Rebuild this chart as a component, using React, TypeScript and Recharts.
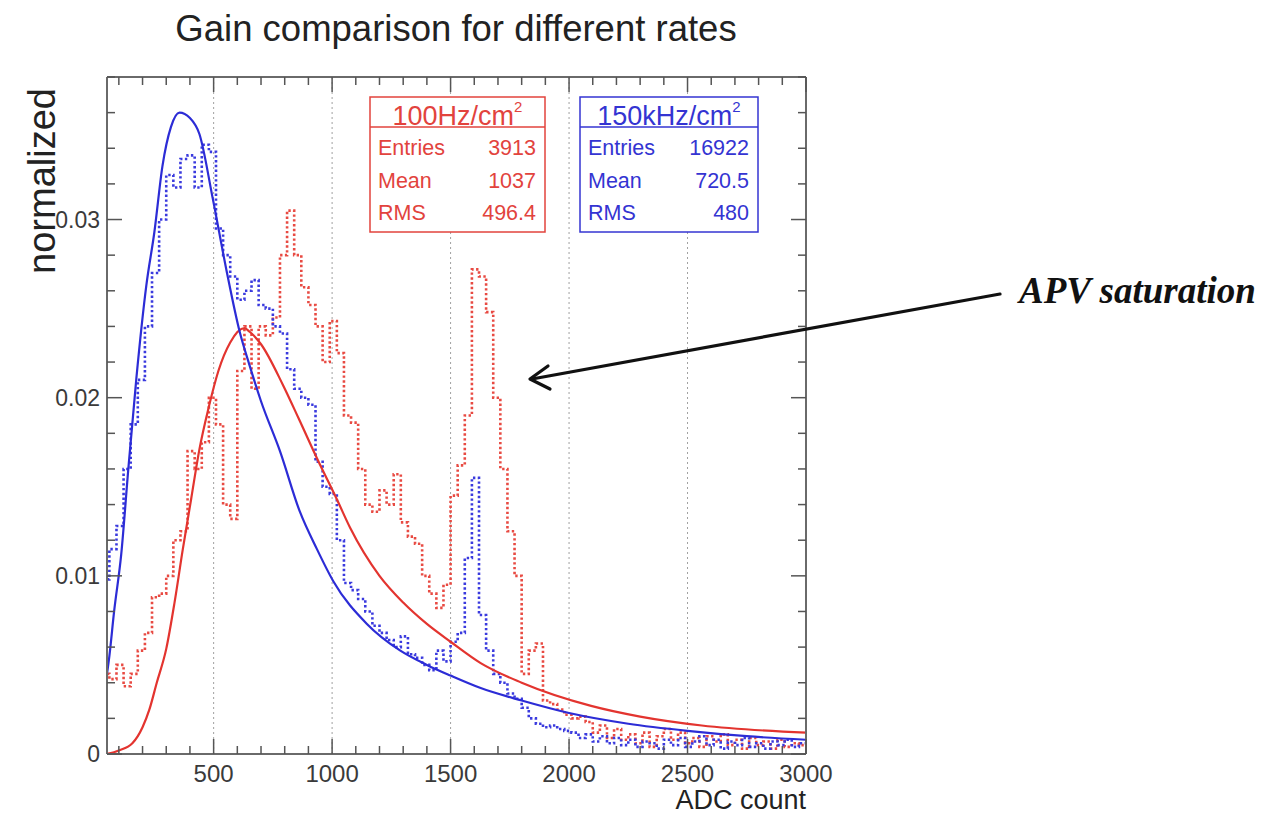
import React from 'react';
import { LineChart, Line, XAxis, YAxis, CartesianGrid } from 'recharts';

// ---------- data ----------
const binEdges = [
  30, 60, 90, 120, 150, 180, 210, 240, 270, 300,
  330, 360, 390, 420, 450, 480, 510, 540, 570, 600,
  630, 660, 690, 720, 750, 780, 810, 840, 870, 900,
  930, 960, 990, 1020, 1050, 1080, 1110, 1140, 1170, 1200,
  1230, 1260, 1290, 1320, 1350, 1380, 1410, 1440, 1470, 1500,
  1530, 1560, 1590, 1620, 1650, 1680, 1710, 1740, 1770, 1800,
  1830, 1860, 1890, 1920, 1950, 1980, 2010, 2040, 2070, 2100,
  2130, 2160, 2190, 2220, 2250, 2280, 2310, 2340, 2370, 2400,
  2430, 2460, 2490, 2520, 2550, 2580, 2610, 2640, 2670, 2700,
  2730, 2760, 2790, 2820, 2850, 2880, 2910, 2940, 2970, 3000,
];

const red100Hz = [
  0.0045, 0.0042, 0.0050, 0.0038, 0.0045, 0.0058, 0.0068, 0.0088, 0.0090, 0.0100,
  0.0120, 0.0125, 0.0170, 0.0160, 0.0175, 0.0200, 0.0185, 0.0140, 0.0132, 0.0215,
  0.0240, 0.0205, 0.0240, 0.0235, 0.0245, 0.0280, 0.0305, 0.0280, 0.0262, 0.0252,
  0.0240, 0.0220, 0.0243, 0.0225, 0.0190, 0.0186, 0.0160, 0.0140, 0.0136, 0.0148,
  0.0140, 0.0157, 0.0130, 0.0122, 0.0118, 0.0100, 0.0090, 0.0082, 0.0095, 0.0145,
  0.0162, 0.0190, 0.0272, 0.0268, 0.0248, 0.0200, 0.0160, 0.0125, 0.0100, 0.0045,
  0.0058, 0.0062, 0.0030, 0.0028, 0.0025, 0.0022, 0.0020, 0.0021, 0.0018, 0.0012,
  0.0016, 0.0009, 0.0014, 0.0008, 0.0011, 0.0006, 0.0012, 0.0004, 0.0010, 0.0014,
  0.0008, 0.0012, 0.0006, 0.0009, 0.0004, 0.0010, 0.0007, 0.0011, 0.0005, 0.0008,
  0.0003, 0.0009, 0.0005, 0.0007, 0.0003, 0.0008, 0.0004, 0.0006, 0.0005, 0.0005,
];

const blue150kHz = [
  0.0098, 0.0115, 0.0128, 0.0160, 0.0185, 0.0210, 0.0240, 0.0270, 0.0300, 0.0325,
  0.0318, 0.0334, 0.0336, 0.0318, 0.0342, 0.0338, 0.0295, 0.0280, 0.0268, 0.0255,
  0.0260, 0.0266, 0.0252, 0.0250, 0.0240, 0.0236, 0.0216, 0.0205, 0.0200, 0.0196,
  0.0164, 0.0150, 0.0146, 0.0120, 0.0096, 0.0092, 0.0087, 0.0080, 0.0072, 0.0068,
  0.0064, 0.0060, 0.0066, 0.0056, 0.0054, 0.0050, 0.0047, 0.0058, 0.0052, 0.0063,
  0.0068, 0.0110, 0.0155, 0.0078, 0.0058, 0.0045, 0.0040, 0.0034, 0.0031, 0.0026,
  0.0020, 0.0017, 0.0015, 0.0016, 0.0014, 0.0013, 0.0012, 0.0009, 0.0011, 0.0007,
  0.0010, 0.0006, 0.0009, 0.0005, 0.0008, 0.0004, 0.0007, 0.0006, 0.0003, 0.0008,
  0.0005, 0.0009, 0.0004, 0.0007, 0.0010, 0.0005, 0.0008, 0.0003, 0.0007, 0.0005,
  0.0009, 0.0004, 0.0006, 0.0003, 0.0007, 0.0005, 0.0008, 0.0004, 0.0006, 0.0006,
];

const blueFitX = [50, 60, 80, 110, 140, 174, 216, 250, 284, 320, 356, 400, 440, 496, 555, 610, 652, 700, 780, 864, 936, 1005, 1147, 1288, 1400, 1500, 1627, 1800, 2000, 2250, 2500, 2750, 3000];
const blueFitY = [0.0045, 0.0055, 0.0080, 0.0112, 0.0160, 0.0211, 0.0263, 0.0293, 0.0330, 0.0352, 0.0360, 0.0357, 0.0348, 0.0312, 0.0271, 0.0237, 0.0218, 0.0198, 0.0170, 0.0136, 0.0115, 0.0097, 0.0073, 0.0058, 0.0050, 0.0044, 0.0037, 0.0030, 0.0023, 0.0017, 0.0013, 0.0010, 0.0008];

const redFitX = [50, 100, 157, 200, 229, 260, 300, 335, 370, 405, 440, 480, 520, 570, 630, 652, 700, 793, 860, 936, 1020, 1076, 1200, 1300, 1400, 1500, 1627, 1800, 2093, 2300, 2560, 3000];
const redFitY = [0.0000, 0.0002, 0.0006, 0.0015, 0.0025, 0.0040, 0.0059, 0.0085, 0.0115, 0.0143, 0.0171, 0.0195, 0.0215, 0.0231, 0.0239, 0.0237, 0.0230, 0.0207, 0.0188, 0.0166, 0.0143, 0.0127, 0.0100, 0.0085, 0.0073, 0.0063, 0.0051, 0.0040, 0.0027, 0.0021, 0.0016, 0.0012];

const xMajorTicks = [500, 1000, 1500, 2000, 2500, 3000];
const xAllTicks = [100, 200, 300, 400, 500, 600, 700, 800, 900, 1000, 1100, 1200, 1300, 1400, 1500, 1600, 1700, 1800, 1900, 2000, 2100, 2200, 2300, 2400, 2500, 2600, 2700, 2800, 2900, 3000];
const yMajorTicks = [0, 0.01, 0.02, 0.03];
const yAllTicks = [0, 0.002, 0.004, 0.006, 0.008, 0.01, 0.012, 0.014, 0.016, 0.018, 0.02, 0.022, 0.024, 0.026, 0.028, 0.03, 0.032, 0.034, 0.036, 0.038];

const redStats = [['Entries', '3913'], ['Mean', '1037'], ['RMS', '496.4']];
const blueStats = [['Entries', '16922'], ['Mean', '720.5'], ['RMS', '480']];

// ---------- derived ----------
const histRows = binEdges.map((adc, i) => ({ adc, red: red100Hz[i], blue: blue150kHz[i] }));
const blueFit = blueFitX.map((adc, i) => ({ adc, v: blueFitY[i] }));
const redFit = redFitX.map((adc, i) => ({ adc, v: redFitY[i] }));

const X_DOMAIN: [number, number] = [50, 3000];
const Y_DOMAIN: [number, number] = [0, 0.038];
const FONT = '"Liberation Sans", Arial, Helvetica, sans-serif';
const FRAME = '#6a6a6a';
const TICK = '#555';
const LABEL = '#3a3a3a';
const RED = '#e3342f';
const BLUE = '#2c2cd6';
const RED_H = '#e84a42';
const BLUE_H = '#3a3ade';

const MAJOR_LEN = 15;
const MINOR_LEN = 8;

type Side = 'bottom' | 'top' | 'left' | 'right';

function makeTick(side: Side, majors: number[], withLabel: boolean) {
  return (props: any) => {
    const { x, y, payload } = props;
    const v: number = payload.value;
    const isMajor = majors.some((m) => Math.abs(m - v) < 1e-9);
    const len = isMajor ? MAJOR_LEN : MINOR_LEN;
    let line: [number, number, number, number];
    if (side === 'bottom') line = [x, y, x, y - len];
    else if (side === 'top') line = [x, y, x, y + len];
    else if (side === 'left') line = [x, y, x + len, y];
    else line = [x, y, x - len, y];
    let label: React.ReactNode = null;
    if (withLabel && isMajor) {
      if (side === 'bottom') {
        label = (
          <text x={x} y={y + 28} textAnchor="middle" fontFamily={FONT} fontSize={24} fill={LABEL}>{String(v)}</text>
        );
      } else if (side === 'left') {
        label = (
          <text x={x - 7} y={y + 8} textAnchor="end" fontFamily={FONT} fontSize={23} fill={LABEL}>{v === 0 ? '0' : v.toFixed(2)}</text>
        );
      }
    }
    return (
      <g>
        <line x1={line[0]} y1={line[1]} x2={line[2]} y2={line[3]} stroke={TICK} strokeWidth={1.5} />
        {label}
      </g>
    );
  };
}

function StatBox({ x, w, color, title, rows }: { x: number; w: number; color: string; title: string; rows: string[][] }) {
  const y = 97;
  const h = 135;
  return (
    <g>
      <rect x={x} y={y} width={w} height={h} fill="#fff" stroke={color} strokeWidth={1.5} />
      <line x1={x} x2={x + w} y1={127} y2={127} stroke={color} strokeWidth={1.5} />
      <text x={x + w / 2} y={125} textAnchor="middle" fontFamily={FONT} fontSize={27} fill={color}>
        {title}
        <tspan fontSize={15} dy={-13}>2</tspan>
      </text>
      {rows.map((r, i) => (
        <g key={r[0]}>
          <text x={x + 8} y={155 + i * 32.5} fontFamily={FONT} fontSize={21.5} fill={color}>{r[0]}</text>
          <text x={x + w - 9} y={155 + i * 32.5} textAnchor="end" fontFamily={FONT} fontSize={21.5} fill={color}>{r[1]}</text>
        </g>
      ))}
    </g>
  );
}

const frameLine = { stroke: FRAME, strokeWidth: 2 };

export default function App() {
  return (
    <div style={{ position: 'absolute', left: 0, top: 0, width: 1278, height: 814, background: '#fff' }}>
      <LineChart width={1278} height={814} margin={{ top: 76, right: 471, bottom: 59, left: 106 }}>
        <CartesianGrid xAxisId="x" yAxisId="y" horizontal={false} verticalValues={xMajorTicks} stroke="#a0a0a0" strokeDasharray="2 3" strokeWidth={1} />
        <XAxis
          xAxisId="x" dataKey="adc" type="number" domain={X_DOMAIN} allowDataOverflow ticks={xAllTicks} interval={0}
          height={1} tickSize={0} tickMargin={0} tickLine={false} axisLine={frameLine}
          tick={makeTick('bottom', xMajorTicks, true)}
        />
        <XAxis
          xAxisId="xt" orientation="top" dataKey="adc" type="number" domain={X_DOMAIN} allowDataOverflow ticks={xAllTicks} interval={0}
          height={1} tickSize={0} tickMargin={0} tickLine={false} axisLine={frameLine}
          tick={makeTick('top', xMajorTicks, false)}
        />
        <YAxis
          yAxisId="y" type="number" domain={Y_DOMAIN} allowDataOverflow ticks={yAllTicks} interval={0}
          width={1} tickSize={0} tickMargin={0} tickLine={false} axisLine={frameLine}
          tick={makeTick('left', yMajorTicks, true)}
        />
        <YAxis
          yAxisId="yr" orientation="right" type="number" domain={Y_DOMAIN} allowDataOverflow ticks={yAllTicks} interval={0}
          width={1} tickSize={0} tickMargin={0} tickLine={false} axisLine={frameLine}
          tick={makeTick('right', yMajorTicks, false)}
        />
        <Line xAxisId="x" yAxisId="y" data={histRows} dataKey="red" type="stepAfter" stroke={RED_H} strokeWidth={2.6}
          strokeDasharray="2.4 2.4" dot={false} activeDot={false} isAnimationActive={false} />
        <Line xAxisId="x" yAxisId="y" data={histRows} dataKey="blue" type="stepAfter" stroke={BLUE_H} strokeWidth={2.6}
          strokeDasharray="2.4 2.4" dot={false} activeDot={false} isAnimationActive={false} />
        <Line xAxisId="x" yAxisId="y" data={redFit} dataKey="v" type="monotone" stroke={RED} strokeWidth={2.2}
          dot={false} activeDot={false} isAnimationActive={false} />
        <Line xAxisId="x" yAxisId="y" data={blueFit} dataKey="v" type="monotone" stroke={BLUE} strokeWidth={2.2}
          dot={false} activeDot={false} isAnimationActive={false} />
      </LineChart>
      <svg width={1278} height={814} style={{ position: 'absolute', left: 0, top: 0, pointerEvents: 'none' }}>
        <text x={456} y={41} textAnchor="middle" fontFamily={FONT} fontSize={36.5} fill="#222">Gain comparison for different rates</text>
        <text transform="translate(55,181) rotate(-90)" textAnchor="middle" fontFamily={FONT} fontSize={38} fill="#222">normalized</text>
        <text x={806} y={809} textAnchor="end" fontFamily={FONT} fontSize={27} fill="#222">ADC count</text>
        <StatBox x={370} w={175} color="#e2433d" title="100Hz/cm" rows={redStats} />
        <StatBox x={580} w={178} color="#3434d2" title="150kHz/cm" rows={blueStats} />
        <line x1={1000} y1={294} x2={532} y2={379} stroke="#111" strokeWidth={3.2} strokeLinecap="round" />
        <polyline points="548,366 530,379 550,389" fill="none" stroke="#111" strokeWidth={3.2} strokeLinecap="round" strokeLinejoin="round" />
        <text x={1019} y={303} fontFamily='"Liberation Serif", "Times New Roman", serif' fontWeight="bold" fontStyle="italic" fontSize={37} fill="#111">APV saturation</text>
      </svg>
    </div>
  );
}
